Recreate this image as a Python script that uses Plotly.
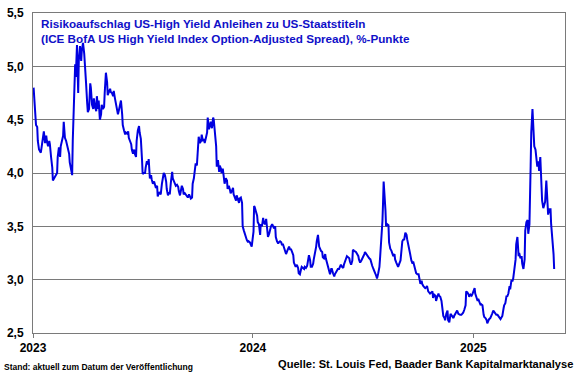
import plotly.graph_objects as go

# --- Data ---
md_2023 = ["01-02","01-03","01-04","01-06","01-08","01-09","01-11","01-13","01-14","01-16","01-18","01-19","01-21","01-23","01-24","01-26","01-28","01-29","01-31",
"02-02","02-03","02-05","02-06","02-08","02-10","02-11","02-13","02-15","02-16","02-18","02-20","02-21","02-23","02-25","02-26","02-28",
"03-02","03-03","03-05","03-07","03-08","03-10","03-12","03-13","03-15","03-17","03-18","03-20","03-22","03-23","03-25","03-27","03-28","03-30",
"04-01","04-02","04-04","04-06","04-07","04-09","04-11","04-12","04-14","04-16","04-17","04-19","04-20","04-22","04-24","04-25","04-27","04-29","04-30",
"05-02","05-04","05-05","05-07","05-09","05-10","05-12","05-14","05-15","05-17","05-19","05-20","05-22","05-24","05-25","05-27","05-29","05-30",
"06-01","06-03","06-04","06-06","06-08","06-09","06-11","06-13","06-14","06-16","06-18","06-19","06-21","06-22","06-24","06-26","06-27","06-29",
"07-01","07-02","07-04","07-06","07-07","07-09","07-11","07-12","07-14","07-16","07-17","07-19","07-21","07-22","07-24","07-26","07-27","07-29","07-31",
"08-01","08-03","08-05","08-06","08-08","08-10","08-11","08-13","08-15","08-16","08-18","08-20","08-21","08-23","08-25","08-26","08-28","08-30","08-31",
"09-02","09-03","09-05","09-07","09-08","09-10","09-12","09-13","09-15","09-17","09-18","09-20","09-22","09-23","09-25","09-27","09-28","09-30",
"10-02","10-03","10-05","10-07","10-08","10-10","10-12","10-13","10-15","10-17","10-18","10-20","10-22","10-23","10-25","10-27","10-28","10-30",
"11-01","11-02","11-04","11-06","11-07","11-09","11-10","11-12","11-14","11-15","11-17","11-19","11-20","11-22","11-24","11-25","11-27","11-29","11-30",
"12-02","12-04","12-05","12-07","12-09","12-10","12-12","12-14","12-15","12-17","12-19","12-20","12-22","12-24","12-25","12-27","12-29","12-30"]
spread_2023 = [4.80,4.70,4.55,4.45,4.43,4.30,4.22,4.20,4.19,4.27,4.33,4.39,4.28,4.35,4.30,4.25,4.30,4.27,4.15,
4.05,3.93,3.95,3.97,3.98,4.00,4.15,4.24,4.15,4.25,4.30,4.35,4.48,4.33,4.30,4.27,4.22,
4.18,4.10,4.05,3.98,4.30,4.75,5.02,4.90,5.20,4.75,5.05,5.19,5.05,5.15,5.22,5.12,5.05,4.85,
4.65,4.57,4.60,4.84,4.80,4.64,4.60,4.70,4.62,4.58,4.72,4.60,4.68,4.50,4.55,4.64,4.60,4.62,4.75,
4.94,4.85,4.73,4.76,4.79,4.76,4.75,4.72,4.77,4.70,4.64,4.58,4.55,4.60,4.62,4.68,4.55,4.45,
4.40,4.36,4.38,4.37,4.39,4.33,4.30,4.27,4.22,4.18,4.22,4.18,4.15,4.30,4.40,4.44,4.38,4.32,
4.12,3.99,4.00,4.00,4.05,4.11,4.08,4.13,3.95,3.98,3.94,3.90,3.92,3.89,3.86,3.88,3.78,3.82,3.81,
3.80,3.90,3.99,4.00,3.98,3.92,3.85,3.79,3.82,3.80,3.92,4.01,3.95,3.92,3.90,3.88,3.89,3.87,3.83,
3.79,3.82,3.88,3.85,3.80,3.81,3.79,3.78,3.77,3.80,3.78,3.76,3.77,3.90,3.95,4.06,4.09,4.07,
4.20,4.34,4.28,4.30,4.36,4.30,4.32,4.28,4.33,4.38,4.52,4.41,4.45,4.48,4.42,4.52,4.50,4.40,
4.25,4.06,4.12,4.01,4.07,4.04,4.00,4.04,3.97,3.90,3.95,3.93,3.85,3.88,3.84,3.81,3.83,3.86,3.80,
3.77,3.74,3.79,3.75,3.72,3.76,3.77,3.72,3.50,3.46,3.42,3.40,3.37,3.35,3.36,3.35,3.33,3.31]

md_2024 = ["01-02","01-03","01-04","01-06","01-08","01-09","01-11","01-13","01-14","01-16","01-18","01-19","01-21","01-23","01-24","01-26","01-28","01-29","01-31",
"02-02","02-03","02-05","02-07","02-08","02-10","02-12","02-13","02-15","02-17","02-18","02-20","02-22","02-23","02-25","02-27","02-28",
"03-01","03-03","03-04","03-06","03-08","03-09","03-11","03-12","03-14","03-16","03-17","03-19","03-21","03-22","03-24","03-26","03-27","03-29","03-31",
"04-01","04-03","04-05","04-06","04-08","04-10","04-11","04-13","04-15","04-16","04-18","04-20","04-21","04-23","04-25","04-26","04-28","04-30",
"05-01","05-03","05-05","05-06","05-08","05-10","05-11","05-13","05-15","05-16","05-18","05-20","05-21","05-23","05-25","05-26","05-28","05-30","05-31",
"06-02","06-04","06-05","06-07","06-09","06-10","06-12","06-14","06-15","06-17","06-19","06-20","06-22","06-24","06-25","06-27","06-29","06-30",
"07-02","07-04","07-05","07-07","07-09","07-10","07-12","07-14","07-15","07-17","07-19","07-20","07-22","07-24","07-25","07-27","07-29","07-30",
"08-01","08-03","08-04","08-05","08-08","08-09","08-11","08-13","08-14","08-16","08-18","08-19","08-21","08-23","08-24","08-26","08-28","08-29","08-31",
"09-02","09-03","09-05","09-07","09-08","09-10","09-12","09-13","09-15","09-17","09-18","09-20","09-22","09-23","09-25","09-27","09-28","09-30",
"10-02","10-03","10-05","10-07","10-08","10-10","10-11","10-13","10-15","10-16","10-18","10-20","10-21","10-23","10-25","10-26","10-28","10-30","10-31",
"11-02","11-04","11-05","11-07","11-09","11-10","11-12","11-14","11-15","11-17","11-19","11-20","11-22","11-24","11-25","11-27","11-29","11-30",
"12-02","12-04","12-05","12-07","12-09","12-10","12-12","12-14","12-15","12-17","12-19","12-20","12-22","12-24","12-25","12-27","12-29","12-30"]
spread_2024 = [3.45,3.69,3.68,3.64,3.60,3.54,3.52,3.42,3.52,3.50,3.58,3.54,3.52,3.57,3.52,3.40,3.43,3.46,3.50,
3.52,3.51,3.48,3.50,3.40,3.36,3.34,3.35,3.36,3.35,3.33,3.33,3.30,3.28,3.24,3.27,3.29,
3.31,3.28,3.29,3.26,3.23,3.16,3.14,3.12,3.14,3.11,3.06,3.05,3.10,3.12,3.11,3.10,3.12,3.11,3.13,
3.18,3.23,3.18,3.12,3.12,3.15,3.19,3.24,3.31,3.36,3.42,3.31,3.29,3.27,3.26,3.21,3.20,3.24,
3.20,3.15,3.12,3.08,3.05,3.10,3.10,3.06,3.03,3.05,3.07,3.08,3.10,3.10,3.12,3.14,3.12,3.11,3.14,
3.17,3.20,3.22,3.21,3.20,3.17,3.14,3.18,3.28,3.27,3.26,3.26,3.24,3.22,3.19,3.16,3.18,3.19,
3.22,3.24,3.26,3.24,3.23,3.21,3.20,3.19,3.16,3.13,3.10,3.08,3.06,3.03,3.01,3.06,3.12,3.20,
3.35,3.55,3.72,3.92,3.65,3.50,3.52,3.51,3.35,3.29,3.27,3.25,3.22,3.24,3.19,3.16,3.14,3.12,3.15,
3.18,3.24,3.36,3.38,3.37,3.44,3.42,3.38,3.33,3.29,3.24,3.18,3.15,3.17,3.12,3.10,3.06,3.05,
3.05,3.02,2.96,2.99,2.96,2.94,2.93,2.92,2.93,2.94,2.89,2.88,2.87,2.88,2.89,2.83,2.86,2.85,2.80,
2.84,2.87,2.85,2.84,2.80,2.73,2.66,2.64,2.62,2.68,2.71,2.62,2.60,2.68,2.67,2.66,2.64,2.66,
2.68,2.70,2.71,2.68,2.67,2.67,2.67,2.68,2.69,2.72,2.76,2.89,2.88,2.86,2.84,2.86,2.85,2.86]

md_2025 = ["01-01","01-03","01-04","01-06","01-08","01-09","01-11","01-13","01-14","01-16","01-18","01-19","01-21","01-23","01-24","01-26","01-27","01-29","01-31",
"02-01","02-03","02-05","02-06","02-08","02-10","02-11","02-13","02-15","02-16","02-18","02-20","02-21","02-23","02-25","02-26","02-28",
"03-02","03-03","03-05","03-07","03-08","03-10","03-12","03-13","03-15","03-17","03-18","03-20","03-22","03-23","03-25","03-27","03-28","03-30",
"04-01","04-02","04-04","04-06","04-07","04-09","04-10","04-12","04-14","04-15","04-17","04-19","04-20","04-22","04-24","04-25","04-27","04-29","04-30",
"05-02","05-04","05-05","05-07","05-09","05-10","05-12","05-14","05-15"]
spread_2025 = [2.90,2.92,2.87,2.84,2.80,2.82,2.79,2.76,2.77,2.76,2.67,2.65,2.64,2.62,2.59,2.62,2.63,2.64,2.66,
2.68,2.71,2.69,2.68,2.67,2.67,2.66,2.64,2.63,2.64,2.66,2.73,2.76,2.78,2.85,2.84,2.87,
2.94,2.91,2.99,2.99,3.01,3.10,3.19,3.33,3.40,3.22,3.25,3.20,3.22,3.15,3.10,3.19,3.46,3.54,
3.56,3.43,3.52,4.07,4.38,4.60,4.50,4.25,4.22,4.15,4.06,4.11,4.02,4.15,3.92,3.74,3.67,3.72,3.73,
3.93,3.77,3.61,3.66,3.66,3.52,3.40,3.24,3.10]

year_ticks = ["2023-01-01", "2024-01-01", "2025-01-01"]
year_labels = ["2023", "2024", "2025"]
y_ticks = [2.5, 3.0, 3.5, 4.0, 4.5, 5.0, 5.5]

title_lines = ["Risikoaufschlag US-High Yield Anleihen zu US-Staatstiteln",
               "(ICE BofA US High Yield Index Option-Adjusted Spread), %-Punkte"]
note_left = "Stand: aktuell zum Datum der Veröffentlichung"
note_right = "Quelle: St. Louis Fed, Baader Bank Kapitalmarktanalyse"

# --- Build ---
dates = ([f"2023-{d}" for d in md_2023] + [f"2024-{d}" for d in md_2024]
         + [f"2025-{d}" for d in md_2025])
values = spread_2023 + spread_2024 + spread_2025

FONT = "Arial, Liberation Sans, sans-serif"
GRID = "#7a7a7a"

fig = go.Figure()
fig.add_trace(go.Scatter(x=dates, y=values, mode="lines",
                         line=dict(color="#0000e0", width=2), hoverinfo="skip"))

fig.update_layout(
    width=580, height=375,
    margin=dict(l=33, r=15, t=6, b=42),
    paper_bgcolor="white", plot_bgcolor="white",
    showlegend=False, separators=",.",
    font=dict(family=FONT, color="black"),
    xaxis=dict(type="date", range=["2023-01-01", "2025-06-02"],
               tickmode="array", tickvals=year_ticks, ticktext=year_labels,
               ticks="outside", ticklen=4, tickcolor=GRID,
               showgrid=False, zeroline=False,
               showline=True, linecolor=GRID, linewidth=1, mirror=True,
               tickfont=dict(size=12, family=FONT, color="black", weight="bold")),
    yaxis=dict(range=[2.5, 5.5], tickmode="array", tickvals=y_ticks,
               tickformat=".1f", ticklabeloverflow="allow",
               showgrid=True, gridcolor=GRID, gridwidth=1, zeroline=False,
               showline=True, linecolor=GRID, linewidth=1, mirror=True,
               ticks="", ticklabelstandoff=6,
               tickfont=dict(size=12, family=FONT, color="black", weight="bold")),
)

fig.add_annotation(text="<br>".join(title_lines), xref="paper", yref="paper",
                   x=0.012, y=0.995, xanchor="left", yanchor="top", align="left",
                   showarrow=False,
                   font=dict(size=11.7, family=FONT, color="#1010c8", weight="bold"))
fig.add_annotation(text=note_left, xref="paper", yref="paper",
                   x=-0.058, y=-0.107, xanchor="left", yanchor="middle",
                   showarrow=False,
                   font=dict(size=8.5, family=FONT, color="black", weight="bold"))
fig.add_annotation(text=note_right, xref="paper", yref="paper",
                   x=1.019, y=-0.098, xanchor="right", yanchor="middle",
                   showarrow=False,
                   font=dict(size=11.1, family=FONT, color="black", weight="bold"))

fig.write_html("out.html", config={"displayModeBar": False},
               post_script="document.body.style.margin='0';document.body.style.overflow='hidden';")
